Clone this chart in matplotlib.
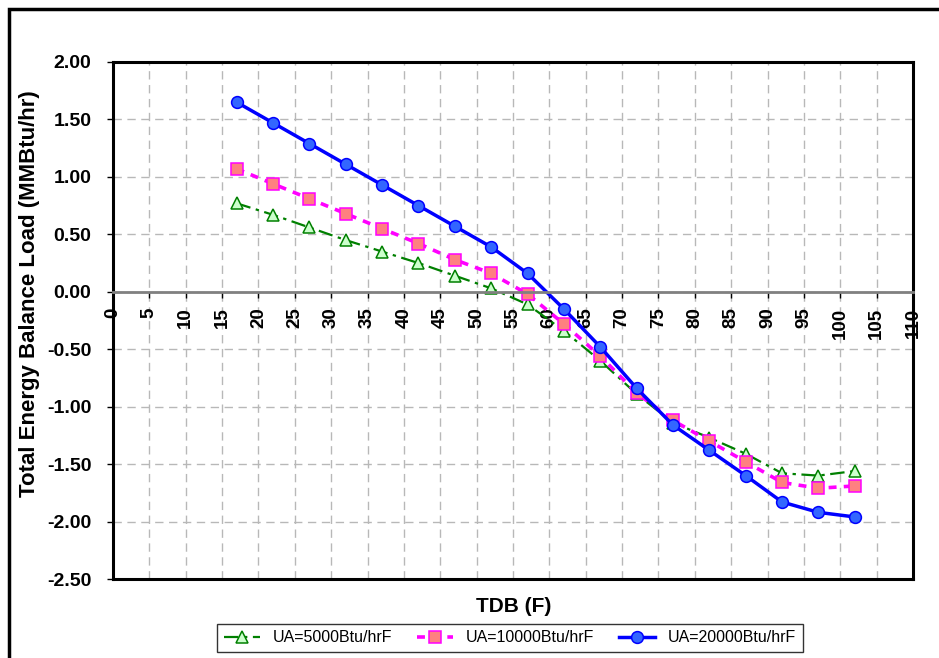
import numpy as np
import matplotlib
matplotlib.use('Agg')
import matplotlib.pyplot as plt
from matplotlib.patches import Rectangle

plt.rcParams['font.family'] = ['Liberation Sans', 'DejaVu Sans']

# outdoor dry bulb temperature (F)
tdb = [17, 22, 27, 32, 37, 42, 47, 52, 57, 62, 67, 72, 77, 82, 87, 92, 97, 102]

# total energy balance load (MMBtu/hr) for each UA
load_ua5000 = [0.77, 0.67, 0.56, 0.45, 0.35, 0.25, 0.14, 0.03, -0.11, -0.34,
               -0.60, -0.89, -1.14, -1.27, -1.41, -1.58, -1.60, -1.56]
load_ua10000 = [1.07, 0.94, 0.81, 0.68, 0.55, 0.42, 0.28, 0.16, -0.02, -0.28,
                -0.56, -0.88, -1.12, -1.30, -1.48, -1.66, -1.71, -1.69]
load_ua20000 = [1.65, 1.47, 1.29, 1.11, 0.93, 0.75, 0.57, 0.39, 0.16, -0.15,
                -0.48, -0.84, -1.16, -1.38, -1.60, -1.83, -1.92, -1.96]

labels = ['UA=5000Btu/hrF', 'UA=10000Btu/hrF', 'UA=20000Btu/hrF']
x_ticks = list(range(0, 111, 5))
y_ticks = [-2.5, -2.0, -1.5, -1.0, -0.5, 0.0, 0.5, 1.0, 1.5, 2.0]

fig = plt.figure(figsize=(9.39, 6.58), dpi=100)
ax = fig.add_axes([113/939, 1-579/658, 800/939, 517/658])

ax.plot(tdb, load_ua5000, color='#008000', lw=1.6, dashes=[6.5, 2.5, 1.5, 2.5],
        marker='^', ms=9, mfc='#ccffcc', mec='#008000', mew=1.1, label=labels[0])
ax.plot(tdb, load_ua10000, color='#ff00ff', lw=2.6, dashes=[2.2, 2.0],
        marker='s', ms=8, mfc='#ff8080', mec='#ff00ff', mew=1.1, label=labels[1])
ax.plot(tdb, load_ua20000, color='#0000ff', lw=2.5, ls='-',
        marker='o', ms=8.5, mfc='#3366ff', mec='#0000ff', mew=1.1, label=labels[2])

ax.set_xlim(0, 110)
ax.set_ylim(-2.5, 2.0)

for s in ['left', 'right', 'top']:
    ax.spines[s].set_linewidth(2.2)
    ax.spines[s].set_color('black')

# x axis runs through zero, frame bottom drawn separately
ax.spines['bottom'].set_position(('data', 0))
ax.spines['bottom'].set_color('#808080')
ax.spines['bottom'].set_linewidth(2)
ax.plot([0, 1], [0, 0], transform=ax.transAxes, color='black', lw=2.2,
        clip_on=False, solid_capstyle='projecting')

ax.tick_params(axis='y', length=4.5, width=1, pad=11)
ax.tick_params(axis='x', length=4.3, width=1, pad=7)

# tick labels set after the spine move (that resets the ticks)
ax.set_xticks(x_ticks, labels=[str(v) for v in x_ticks], rotation=90,
              rotation_mode='default', ha='center', va='top',
              fontsize=13.5, fontweight='bold')
ax.set_yticks(y_ticks, labels=['%.2f' % v for v in y_ticks],
              fontsize=14, fontweight='bold')
ax.grid(True, color='#b8b8b8', ls=(0, (6, 4)), lw=1)
ax.set_axisbelow(True)

fig.text(514/939, 1-606/658, 'TDB (F)', fontsize=15, fontweight='bold',
         ha='center', va='center')
fig.text(30/939, 1-294/658, 'Total Energy Balance Load (MMBtu/hr)',
         fontsize=16, fontweight='bold', rotation=90, ha='center', va='center')

leg = fig.legend(loc='center', bbox_to_anchor=(510/939, 1-638/658), ncol=3,
                 fontsize=11.5, frameon=True, fancybox=False, edgecolor='black',
                 handlelength=2.3, handletextpad=0.8, columnspacing=1.5,
                 borderpad=0.4)
leg.get_frame().set_linewidth(1)

# outer chart border
fig.patches.append(Rectangle((9/939, -0.2), 1.2, 1.2 - 9/658,
                             transform=fig.transFigure, fill=False,
                             lw=2.5, ec='black'))

fig.savefig('out.png', dpi=100)
